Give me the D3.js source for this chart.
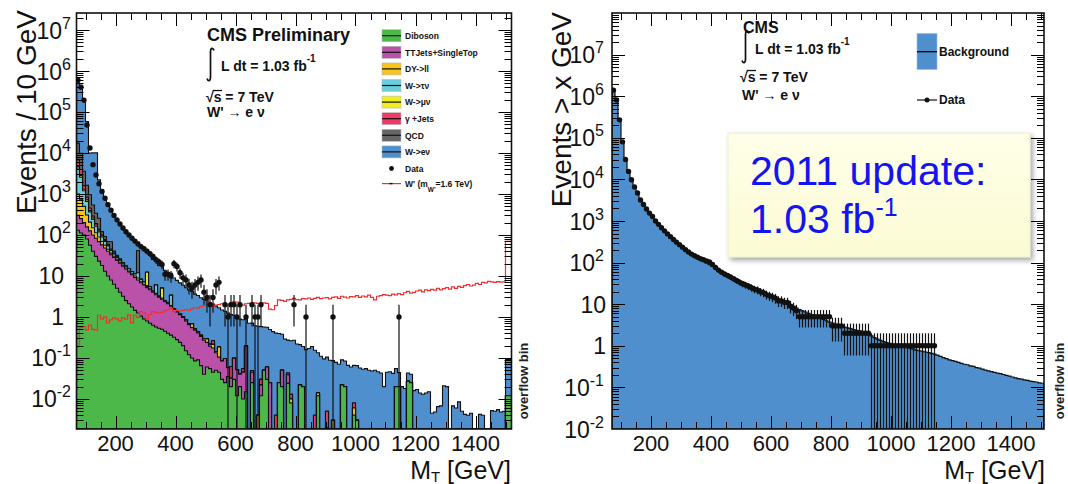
<!DOCTYPE html>
<html>
<head>
<meta charset="utf-8">
<script src="https://cdn.jsdelivr.net/npm/d3@7"></script>
<style>
html,body{margin:0;padding:0;background:#fff;}
svg{display:block;}
text{font-family:"Liberation Sans",Arial,Helvetica,sans-serif;}
</style>
</head>
<body>
<svg id="chart" width="1068" height="484"></svg>
<script>
// ---------------- data ----------------
// Transverse-mass bins, 10 GeV wide. Left panel: last bin (1500-1520) is the overflow bin.
const binLow = d3.range(70, 1510, 10);          // 70 ... 1500
const leftLastHigh = 1520, rightLastHigh = 1510;

// Left panel: stacked backgrounds, events / 10 GeV (bins not listed are empty)
const diboson = [130,112,100,80,56,40,30,23,18,13, 10,8,6.3,5,4,3.2,2.5,2.1,1.75,1.45,
  1.25,1.05,0.9,0.8,0.7,0.63,0.57,0.53,0.5,0.45, 0.4,0.36,0.32,0.28,0.24,0.2,0.15,0.12,0.1,0.085,
  0.09,0.065,0.04,0.06,0.055,0.045,0.05,0.045,0.03,0.025, 0.035,0.02,0.03,0.012,0.02,0.01,0.015,0,0.025,0,
  0,0.012,0.05,0.03,0,0,0,0.025,0.02,0, 0.024,0.008,0,0,0.022,0.02,0,0,0,0,
  0.012,0,0,0,0,0,0,0,0.022,0.02, 0,0,0.004,0.003,0,0,0,0,0,0,
  0,0,0,0,0,0,0.02,0.02,0,0, 0.027,0.025,0,0,0,0,0,0,0,0,
  0,0,0,0,0,0,0,0,0,0, 0,0,0,0,0,0,0,0,0,0, 0,0,0,0.012];
const ttbar = [172,139,100,78,70,60,53,46,39.5,35, 30,25,22,19,16.4,14.2,12.3,10.5,9,7.7,
  6.7,5.8,5.1,4.4,3.9,3.4,2.9,2.5,2.2,1.9, 1.7,1.46,1.2,1.05,0.9,0.78,0.65,0.53,0.45,0.39,
  0.32,0.27,0.23,0.18,0.14,0.13,0.084,0.06,0.054,0.072, 0.023,0.012,0.068,0.04,0.02,0.035,0.18,0,0.02,0,
  0,0.01,0,0.03,0.025,0,0,0,0.03,0, 0.015];
const dyll = [700,500,300,150,80,50,30,20,12,8, 5,3,2,1.5,1.2,1,0.8,0.6,0.5,0.8,
  1,0.4,0.3,0.3,0.3,0.2,0.3,0.15,0.15,0.1, 0.1,0.08,0.08,0.06,0.06,0.05,0.05,0.04,0.13,0.03,
  0.03,0.02,0.02,0.05,0.02,0.04,0.01,0.08,0,0, 0,0,0,0,0,0,0,0,0.003,0,
  0.004,0,0,0,0,0,0,0,0,0, 0,0.002,0,0,0,0,0,0,0,0, 0.002,0,0,0.002,0,0.003,0,0,0,0, 0,0,0.002];
const wtaunu = [3300,1800,700,350,160,90,50,30,20,14, 9,6,4,3,2.5,2,1.6,1.8,1.5,1.2,
  3,1,0.8,0.3,0.6,0,2.3,0,0,0, 0,1.5];
const wmunu = [380,250,100,60,30,20,12,8,5,3, 2,1.5,1,0.8,0.6,0.4,0,0,0,0, 0,0,0,6.5,0,0,0,0,2.2];
const gjets = [2080,1160,300,120,60,30,15,10,6,4, 3,2,1,0.8,0.5,0.4,0.3,0,0,0,
  0,0,0,0,0,0,0,0,0,0, 0,0,0,0,0,0,0,0,0,0, 0,0,0,0,0,0.05,0,0,0,0,
  0,0.03,0,0,0,0.01,0,0,0,0, 0,0.008,0,0,0,0,0.004,0,0,0, 0.004,0.003,0,0,0,0,0,0,0,0.004,
  0,0,0,0.003,0,0,0,0,0,0, 0,0,0.002];
const qcd = [10600,5800,2000,800,500,250,150,120,20,15, 10,23,4,2,1,0,0,0,0,0, 30];
const wenu = [500000,440000,175000,57000,9000,9500,9700,1950,1150,780, 520,370,270,200,158,130,103,86,70,58,
  25,44,37,31,26,21,18,15,13,11, 9.7,8.3,7.3,6.4,5.6,4.9,4.3,3.9,3.5,3.1,
  2.9,2.6,2.4,2.2,2.0,1.8,1.7,1.5,1.4,1.28, 1.18,1.08,1.0,0.93,0.85,0.8,0.75,0.7,0.66,0.61,
  0.59,0.55,0.52,0.5,0.47,0.44,0.40,0.37,0.33,0.29, 0.23,0.25,0.27,0.22,0.19,0.17,0.16,0.17,0.19,0.15,
  0.12,0.11,0.095,0.1,0.088,0.083,0.078,0.07,0.068,0.064, 0.066,0.06,0.058,0.062,0.057,0.053,0.055,0.05,0.048,0.05,
  0.046,0.043,0.02,0.045,0.046,0.042,0.035,0.024,0.02,0.018, 0.016,0.015,0.016,0.017,0.014,0.013,0.014,0.015,0.0045,0.0048,
  0.0065,0.0068,0.021,0.02,0,0.0068,0.006,0.0085,0.005,0.0042, 0.004,0.0045,0,0,0.0042,0.004,0,0,0.0052,0.005,
  0.0055,0.0048,0.005,0.08];
// W' signal, m(W') = 1.6 TeV
const wprime = [0.19,0.55,0.58,0.48,0.63,0.5,0.48,1.1,0.9,1.0, 0.72,0.85,0.95,0.9,0.8,0.95,0.88,1.12,0.72,1.1,
  0.98,1.35,1.25,0.9,1.15,1.35,1.3,1.25,1.3,1.4, 1.5,1.62,1.35,1.45,1.4,1.45,1.5,1.45,1.58,1.7,
  1.65,1.78,1.9,2.35,2.05,1.8,1.95,2.0,2.1,2.15, 2.05,2.2,2.35,2.3,1.78,1.95,2.1,2.15,2.05,2.2,
  2.15,2.1,2.2,2.15,1.55,1.5,1.9,2.6,2.55,2.4, 2.6,2.7,2.85,2.65,2.6,2.8,2.75,2.9,2.7,2.85,
  3.0,2.8,2.9,2.95,2.75,3.0,3.1,2.85,3.2,3.05, 2.9,3.15,3.1,3.3,3.0,3.25,3.1,3.4,3.0,2.6,
  3.2,3.3,3.5,3.4,3.3,3.6,3.45,3.7,3.5,3.9, 4.2,3.8,4.0,4.3,4.5,4.1,4.6,4.4,4.7,4.5,
  5.0,4.6,4.9,5.2,4.8,5.4,5.0,5.6,5.3,5.8, 6.2,5.7,6.0,6.6,6.2,7.0,6.8,7.4,7.2,7.0,
  7.3,7.1,7.2,70];
// Observed events / 10 GeV
const dataCounts = [600000,400000,195000,48000,13200,5200,2900,1780,1150,790, 550,400,300,234,186,148,120,100,83,71,
  60,52,46,40,35,30,25,22,19,11, 11,10,20,17,12,9,8,6,5,6,
  7,8,4,3,2,3,6,7,0,2, 1,2,2,1,2,0,1,0,2,1,
  1,2,0,0,0,0,0,0,0,0, 0,0,2,0,0,0,1,0,0,0, 0,0,0,0,0,1,0,0,0,0,
  0,0,0,0,0,0,0,0,0,0, 0,0,0,0,0,0,0,1];

// Right panel: integrated spectra, events with M_T > x
const bkgIntegral = [1400000,790000,280000,76000,28000,14800,9300,6300,4470,3160,
  2400,1900,1510,1230,1000,830,690,575,490,417, 363,316,275,240,209,186,166,148,132,120,
  107,98,89,81,74,68,62,56,51,47, 44,40,36,34,31,29,26,24.5,22.4,20.9,
  19.5,17.8,16.6,15.5,14.5,13.5,12.3,11.5,10.7,9.8, 8.9,8.1,7.4,6.9,6.5,6.0,5.6,5.25,4.9,4.6,
  4.3,4.0,3.7,3.5,3.3,3.1,2.95,2.8,2.7,2.6, 2.45,2.35,2.3,2.2,2.1,1.95,1.74,1.58,1.45,1.35,
  1.26,1.2,1.15,1.1,1.07,1.05,1.0,0.95,0.91,0.87, 0.83,0.79,0.76,0.74,0.71,0.69,0.66,0.63,0.6,0.56,
  0.52,0.49,0.46,0.44,0.42,0.4,0.38,0.36,0.35,0.33, 0.32,0.30,0.29,0.275,0.26,0.25,0.24,0.23,0.22,0.214,
  0.204,0.195,0.186,0.178,0.17,0.162,0.158,0.151,0.148,0.141, 0.138,0.135,0.129,0.126];
const dataIntegral = [1400000,810000,270000,80000,30000,15500,9800,6600,4700,3200,
  2500,1950,1550,1280,1000,830,690,580,490,420, 360,310,270,235,205,180,160,146,134,124,
  117,110,104,90,76,66,59,53,49,45, 41,37,34,31,29,27,25,23,22,20,
  19,17,16,15,14,12,12,11,11,9, 8,7,5,5,5,5,5,5,5,5,
  5,5,5,3,3,3,3,2,2,2, 2,2,2,2,2,2,1,1,1,1,
  1,1,1,1,1,1,1,1,1,1, 1,1,1,1,1,1,1,1];

// Axis labels
const yTickExps = [-2,-1,0,1,2,3,4,5,6,7];
const xTickLabels = [200,400,600,800,1000,1200,1400];

// Stack definitions, bottom to top
const stackNames = ['Diboson','TTJets+SingleTop','DY->ll','W->\u03c4\u03bd','W->\u03bc\u03bd','\u03b3 +Jets','QCD','W->e\u03bd'];
const stackSeries = [diboson, ttbar, dyll, wtaunu, wmunu, gjets, qcd, wenu];
const stackColors = ['#4cb84a','#bb52aa','#f8c41c','#6accdc','#f0ee20','#ef3a68','#666666','#4f8fcd'];

// ---------------- drawing ----------------
const svg = d3.select('#chart');

const lx = d3.scaleLinear().domain([70, leftLastHigh]).range([76.5, 511.5]);
const ly = d3.scaleLog().domain([0.00185, 2.6e7]).range([429, 13]).clamp(true);
const rx = d3.scaleLinear().domain([70, rightLastHigh]).range([612, 1044]);
const ry = d3.scaleLog().domain([0.01, 1e8]).range([429, 13]).clamp(true);

const defs = svg.append('defs');
defs.append('clipPath').attr('id','clipL').append('rect')
  .attr('x',76.5).attr('y',13).attr('width',435).attr('height',416);
defs.append('clipPath').attr('id','clipR').append('rect')
  .attr('x',612).attr('y',13).attr('width',432).attr('height',416);

function binPoints(vals, lastHigh) {
  const pts = binLow.map((b,i) => ({x: b, v: vals[i] || 0}));
  pts.push({x: lastHigh, v: vals[binLow.length-1] || 0});
  return pts;
}
function histArea(vals, lastHigh, x, y) {
  const base = y.range()[0];
  return d3.area().curve(d3.curveStepAfter)
    .x(d => x(d.x)).y0(base)
    .y1(d => d.v > 0 ? y(d.v) : base)(binPoints(vals, lastHigh));
}
function histLine(vals, lastHigh, x, y) {
  const base = y.range()[0];
  return d3.line().curve(d3.curveStepAfter)
    .x(d => x(d.x)).y(d => d.v > 0 ? y(d.v) : base)(binPoints(vals, lastHigh));
}

function drawTicks(g, x, y, xStep, xMajor) {
  const [x0,x1] = x.range(); const [yb,yt] = y.range();
  const [lo,hi] = y.domain();
  const tk = g.append('g').attr('stroke','#000').attr('stroke-width',1);
  for (let e = Math.floor(Math.log10(lo)); e <= Math.ceil(Math.log10(hi)); e++) {
    for (let m = 1; m < 10; m++) {
      const v = m * Math.pow(10, e);
      if (v < lo * 1.0001 || v > hi * 0.9999) continue;
      const yy = Math.round(y(v)) + 0.5, L = m === 1 ? 13 : 7;
      tk.append('line').attr('x1',x0).attr('x2',x0+L).attr('y1',yy).attr('y2',yy);
      tk.append('line').attr('x1',x1).attr('x2',x1-L).attr('y1',yy).attr('y2',yy);
    }
  }
  const [d0,d1] = x.domain();
  for (let v = Math.ceil(d0/xStep)*xStep; v < d1; v += xStep) {
    const xx = Math.round(x(v)) + 0.5, L = v % xMajor === 0 ? 13 : 7;
    tk.append('line').attr('x1',xx).attr('x2',xx).attr('y1',yb).attr('y2',yb-L);
    tk.append('line').attr('x1',xx).attr('x2',xx).attr('y1',yt).attr('y2',yt+L);
  }
}

function drawYLabels(g, y, expEndX, plainEndX) {
  yTickExps.forEach(e => {
    const yy = y(Math.pow(10, e));
    const t = g.append('text').attr('y', yy + 8.5).attr('font-size', 23)
      .attr('text-anchor','end').attr('fill','#111');
    if (e === 0) t.attr('x', plainEndX).text('1');
    else if (e === 1) t.attr('x', plainEndX).text('10');
    else {
      t.attr('x', expEndX);
      t.append('tspan').text('10');
      t.append('tspan').attr('dy', -10).attr('font-size', 16).text(e);
    }
  });
}
function drawXLabels(g, x) {
  xTickLabels.forEach(v => {
    g.append('text').attr('x', x(v)).attr('y', 451).attr('font-size', 22)
      .attr('text-anchor','middle').attr('fill','#111').text(v);
  });
}
function xTitle(g, xEnd) {
  const t = g.append('text').attr('x', xEnd).attr('y', 478.5).attr('font-size', 25)
    .attr('text-anchor','end').attr('fill','#111');
  t.append('tspan').text('M');
  t.append('tspan').attr('font-size', 15).attr('dy', 3).text('T');
  t.append('tspan').attr('dy', -3).text(' [GeV]');
}
function yTitle(g, xBase, yTop, label) {
  g.append('text').attr('transform', `translate(${xBase},${yTop}) rotate(-90)`)
    .attr('font-size', 28).attr('text-anchor','end').attr('fill','#111').text(label);
}
function overflowLabel(g, xBase) {
  g.append('text').attr('transform', `translate(${xBase},381) rotate(-90)`)
    .attr('font-size', 13).attr('font-weight','bold').attr('text-anchor','middle')
    .attr('fill','#222').text('overflow bin');
}
function integralSign(g, x, y0, y1) {
  g.append('path').attr('fill','none').attr('stroke','#111').attr('stroke-width',1.7)
    .attr('d', `M${x+6},${y0+2.5} C${x+5},${y0-0.5} ${x+2.5},${y0-0.5} ${x+2.5},${y0+4}` +
               ` L${x+2.5},${y1-4} C${x+2.5},${y1+0.5} ${x},${y1+0.5} ${x-1},${y1-2.5}`);
}
function sqrtS(g, x, y, size) {
  const t = g.append('text').attr('x', x).attr('y', y).attr('font-size', size)
    .attr('font-weight','bold').attr('fill','#111');
  t.append('tspan').text('\u221a');
  t.append('tspan').text('s');
  t.append('tspan').text(' = 7 TeV');
  const n = t.node();
  const sx = n.getStartPositionOfChar(1).x, ex = n.getEndPositionOfChar(1).x;
  g.append('line').attr('x1', sx - 1).attr('x2', ex + 0.5).attr('y1', y - size*0.82).attr('y2', y - size*0.82)
    .attr('stroke','#111').attr('stroke-width',1.3);
}

// ---------- left panel ----------
const L = svg.append('g');
const lPlot = L.append('g').attr('clip-path','url(#clipL)');
// cumulative stack
const cum = [];
stackSeries.forEach((s,k) => {
  cum[k] = binLow.map((b,i) => (s[i] || 0) + (k ? cum[k-1][i] : 0));
});
for (let k = stackSeries.length - 1; k >= 0; k--) {
  lPlot.append('path').attr('d', histArea(cum[k], leftLastHigh, lx, ly))
    .attr('fill', stackColors[k]).attr('stroke','#111').attr('stroke-width',1.1)
    .attr('stroke-linejoin','miter');
}
// signal
lPlot.append('path').attr('d', histLine(wprime, leftLastHigh, lx, ly))
  .attr('fill','none').attr('stroke','#f03030').attr('stroke-width',1.2);
// data with Poisson-style error bars
function drawData(g, vals, x, y, lastHigh) {
  const base = y.range()[0];
  binLow.forEach((b,i) => {
    const v = vals[i] || 0;
    if (v <= 0) return;
    const hiEdge = i + 1 < binLow.length ? binLow[i+1] : lastHigh;
    const cx = x((b + hiEdge) / 2), e = Math.sqrt(v);
    const yUp = y(v + e), yDn = v - e > 0 ? y(v - e) : base;
    g.append('line').attr('x1',cx).attr('x2',cx).attr('y1',yUp).attr('y2',yDn)
      .attr('stroke','#111').attr('stroke-width',1.2);
    g.append('circle').attr('cx',cx).attr('cy',y(v)).attr('r',2.7).attr('fill','#111');
  });
}
drawData(lPlot, dataCounts, lx, ly, leftLastHigh);

L.append('rect').attr('x',76.5).attr('y',13).attr('width',435).attr('height',416)
  .attr('fill','none').attr('stroke','#111').attr('stroke-width',1.6);
drawTicks(L, lx, ly, 50, 200);
drawYLabels(L, ly, 71, 64);
drawXLabels(L, lx);
xTitle(L, 511);
yTitle(L, 36, 10, 'Events / 10 GeV');
overflowLabel(L, 528);

// left header text
L.append('text').attr('x',207).attr('y',41).attr('font-size',18).attr('font-weight','bold')
  .attr('fill','#111').text('CMS Preliminary');
integralSign(L, 208, 48, 81);
const lumiL = L.append('text').attr('x',221).attr('y',71).attr('font-size',14).attr('font-weight','bold').attr('fill','#111');
lumiL.append('tspan').text('L dt = 1.03 fb');
lumiL.append('tspan').attr('dy',-9).attr('font-size',10).text('-1');
sqrtS(L, 206, 102, 14);
L.append('text').attr('x',207).attr('y',117).attr('font-size',14).attr('font-weight','bold')
  .attr('fill','#111').text('W\' \u2192 e \u03bd');

// left legend
const legY0 = 35.7, legDy = 16.6;
stackNames.forEach((name,k) => {
  const yy = legY0 + k*legDy;
  L.append('rect').attr('x',382).attr('y',yy-6).attr('width',19).attr('height',12)
    .attr('fill',stackColors[k]).attr('stroke','#bbb').attr('stroke-width',0.6);
  L.append('line').attr('x1',382).attr('x2',401).attr('y1',yy).attr('y2',yy)
    .attr('stroke','#111').attr('stroke-width',1.2);
  L.append('text').attr('x',405).attr('y',yy+3.2).attr('font-size',8.5).attr('font-weight','bold')
    .attr('fill','#111').text(name);
});
{
  const yd = legY0 + 8*legDy, yw = legY0 + 9*legDy - 1.5;
  L.append('circle').attr('cx',391.5).attr('cy',yd).attr('r',2.4).attr('fill','#111');
  L.append('text').attr('x',405).attr('y',yd+3.2).attr('font-size',8.5).attr('font-weight','bold').attr('fill','#111').text('Data');
  L.append('line').attr('x1',382).attr('x2',401).attr('y1',yw).attr('y2',yw).attr('stroke','#f03030').attr('stroke-width',1.2);
  L.append('line').attr('x1',389.5).attr('x2',392.5).attr('y1',yw).attr('y2',yw).attr('stroke','#111').attr('stroke-width',1.4);
  const t = L.append('text').attr('x',405).attr('y',yw+3.2).attr('font-size',8.5).attr('font-weight','bold').attr('fill','#111');
  t.append('tspan').text('W\' (m');
  t.append('tspan').attr('dy',5).attr('font-size',6.5).text('W\'');
  t.append('tspan').attr('dy',-5).text('=1.6 TeV)');
}

// ---------- right panel ----------
const R = svg.append('g');
const rPlot = R.append('g').attr('clip-path','url(#clipR)');
rPlot.append('path').attr('d', histArea(bkgIntegral, rightLastHigh, rx, ry))
  .attr('fill','#4f8fcd').attr('stroke','#111').attr('stroke-width',1.2);
drawData(rPlot, dataIntegral, rx, ry, rightLastHigh);

R.append('rect').attr('x',612).attr('y',13).attr('width',432).attr('height',416)
  .attr('fill','none').attr('stroke','#111').attr('stroke-width',1.6);
drawTicks(R, rx, ry, 50, 200);
drawYLabels(R, ry, 604, 606);
drawXLabels(R, rx);
xTitle(R, 1045);
yTitle(R, 571, 12, 'Events > x GeV');
overflowLabel(R, 1064);

R.append('text').attr('x',743).attr('y',33).attr('font-size',16).attr('font-weight','bold')
  .attr('fill','#111').text('CMS');
integralSign(R, 743, 31, 63);
const lumiR = R.append('text').attr('x',755).attr('y',54).attr('font-size',14).attr('font-weight','bold').attr('fill','#111');
lumiR.append('tspan').text('L dt = 1.03 fb');
lumiR.append('tspan').attr('dy',-9).attr('font-size',10).text('-1');
sqrtS(R, 740, 82, 14);
R.append('text').attr('x',742).attr('y',100).attr('font-size',14).attr('font-weight','bold')
  .attr('fill','#111').text('W\' \u2192 e \u03bd');

// right legend
R.append('rect').attr('x',917).attr('y',33.5).attr('width',20).attr('height',36)
  .attr('fill','#4f8fcd').attr('stroke','#9bbde0').attr('stroke-width',0.6);
R.append('line').attr('x1',917).attr('x2',937).attr('y1',51.7).attr('y2',51.7).attr('stroke','#111').attr('stroke-width',1.4);
R.append('text').attr('x',939).attr('y',55.5).attr('font-size',12).attr('font-weight','bold').attr('fill','#111').text('Background');
R.append('line').attr('x1',917).attr('x2',937).attr('y1',100).attr('y2',100).attr('stroke','#111').attr('stroke-width',1.2);
R.append('circle').attr('cx',927).attr('cy',100).attr('r',2.5).attr('fill','#111');
R.append('text').attr('x',939).attr('y',104).attr('font-size',12).attr('font-weight','bold').attr('fill','#111').text('Data');

// annotation note
const grad = defs.append('linearGradient').attr('id','noteFill').attr('x1',0).attr('y1',0).attr('x2',0).attr('y2',1);
grad.append('stop').attr('offset','0%').attr('stop-color','#ffffe9');
grad.append('stop').attr('offset','100%').attr('stop-color','#fbfbd4');
const sh = defs.append('filter').attr('id','noteShadow').attr('x','-10%').attr('y','-10%').attr('width','130%').attr('height','140%');
sh.append('feDropShadow').attr('dx',2.5).attr('dy',3).attr('stdDeviation',2.5).attr('flood-color','#000').attr('flood-opacity',0.35);
R.append('rect').attr('x',728).attr('y',133).attr('width',302).attr('height',124)
  .attr('fill','url(#noteFill)').attr('stroke','#e9e9c8').attr('stroke-width',0.8)
  .attr('filter','url(#noteShadow)');
R.append('text').attr('x',750).attr('y',185).attr('font-size',41).attr('fill','#1414f0').text('2011 update:');
const note2 = R.append('text').attr('x',750).attr('y',233).attr('font-size',41).attr('fill','#1414f0');
note2.append('tspan').text('1.03 fb');
note2.append('tspan').attr('dy',-17).attr('font-size',25).text('-1');
</script>
</body>
</html>
